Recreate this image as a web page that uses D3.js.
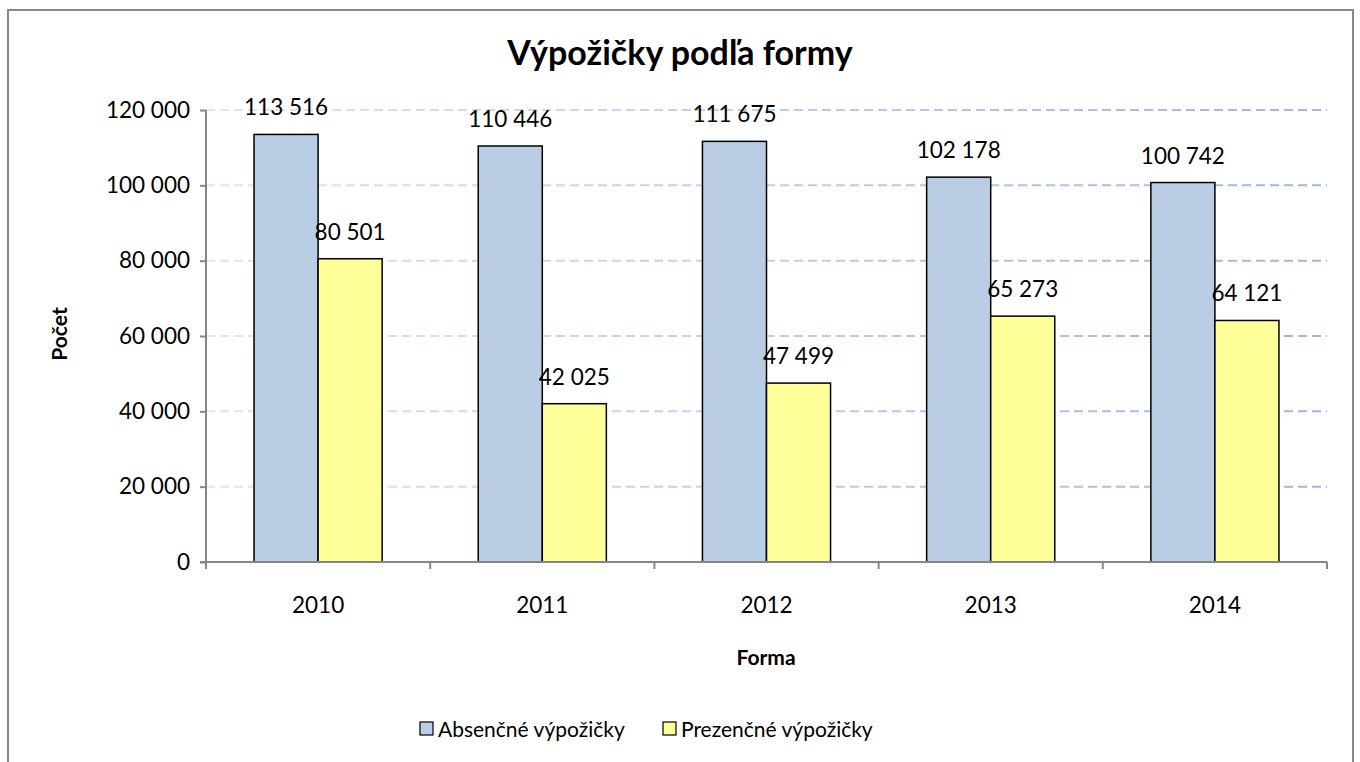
<!DOCTYPE html>
<html><head><meta charset="utf-8">
<script src="https://cdn.jsdelivr.net/npm/d3@7"></script>
<style>body{margin:0;background:#fff}text{font-family:Lato,"Open Sans",sans-serif}</style>
</head><body>
<svg id="c" width="1360" height="762"></svg>
<script>
const categories = ["2010","2011","2012","2013","2014"];
const seriesNames = ["Absenčné výpožičky","Prezenčné výpožičky"];
const absencne = [113516,110446,111675,102178,100742];
const prezencne = [80501,42025,47499,65273,64121];
const yTicks = [0,20000,40000,60000,80000,100000,120000];
const colors = ["#b9cde5","#ffff99"];

const svg = d3.select("#c");
const fmt = v => d3.format(",")(v).replace(/,/g," ");
svg.append("rect").attr("x",8).attr("y",10).attr("width",1345).attr("height",760)
  .attr("fill","#fff").attr("stroke","#888").attr("stroke-width",2);

const L=206,R=1327,T=110,B=562;
const x = d3.scaleBand().domain(categories).range([L,R]).paddingInner(0.4286).paddingOuter(0.2143);
const y = d3.scaleLinear().domain([0,120000]).range([B,T]);

const defs = svg.append("defs");
const g = defs.append("linearGradient").attr("id","gg").attr("gradientUnits","userSpaceOnUse")
  .attr("x1",L).attr("x2",R).attr("y1",0).attr("y2",0);
g.append("stop").attr("offset","0").attr("stop-color","#dfe6f3");
g.append("stop").attr("offset","1").attr("stop-color","#9db6e3");

svg.append("g").selectAll("line").data(yTicks.filter(d=>d>0)).join("line")
  .attr("x1",L).attr("x2",R).attr("y1",d=>y(d)).attr("y2",d=>y(d))
  .attr("stroke","url(#gg)").attr("stroke-width",2).attr("stroke-dasharray","9,5");

const data = categories.map((c,i)=>({c,vals:[absencne[i],prezencne[i]]}));
const xs = d3.scaleBand().domain([0,1]).range([0,x.bandwidth()]);
const grp = svg.append("g").selectAll("g").data(data).join("g").attr("transform",d=>`translate(${x(d.c)},0)`);
grp.selectAll("rect").data(d=>d.vals.map((v,k)=>({v,k}))).join("rect")
  .attr("x",d=>xs(d.k)).attr("width",xs.bandwidth()).attr("y",d=>y(d.v)).attr("height",d=>B-y(d.v))
  .attr("fill",d=>colors[d.k]).attr("stroke","#000").attr("stroke-width",1.5);
grp.selectAll("text").data(d=>d.vals.map((v,k)=>({v,k}))).join("text")
  .attr("x",d=>xs(d.k)+xs.bandwidth()/2).attr("y",d=>y(d.v)-19).attr("text-anchor","middle")
  .attr("font-size",22.5).attr("fill","#000").text(d=>fmt(d.v));

// axes
const yAx = svg.append("g").attr("transform",`translate(${L},0)`)
  .call(d3.axisLeft(y).tickValues(yTicks).tickSize(6).tickPadding(10).tickFormat(fmt));
yAx.selectAll("text").attr("font-size",22.5).attr("fill","#000").style("font-family","Lato,'Open Sans',sans-serif");
yAx.selectAll("line,path").attr("stroke","#868686").attr("stroke-width",2);
yAx.select("path").attr("d",`M0,${T}V${B}`);

const xAx = svg.append("g").attr("transform",`translate(0,${B})`);
xAx.append("line").attr("x1",L-6).attr("x2",R).attr("y1",0).attr("y2",0).attr("stroke","#868686").attr("stroke-width",2);
const bounds = categories.map(c=>x(c)-x.step()*x.paddingOuter()).concat([R]);
xAx.selectAll("line.t").data(bounds).join("line").attr("class","t")
  .attr("x1",d=>d).attr("x2",d=>d).attr("y1",0).attr("y2",7).attr("stroke","#868686").attr("stroke-width",2);
xAx.selectAll("text").data(categories).join("text")
  .attr("x",d=>x(d)+x.bandwidth()/2).attr("y",51).attr("text-anchor","middle").attr("font-size",22.5).text(d=>d);

svg.append("text").attr("x",680).attr("y",65).attr("text-anchor","middle").attr("font-size",34).attr("font-weight","bold").text("Výpožičky podľa formy");
svg.append("text").attr("transform","translate(67,334) rotate(-90)").attr("text-anchor","middle").attr("font-size",21).attr("font-weight","bold").text("Počet");
svg.append("text").attr("x",766).attr("y",665).attr("text-anchor","middle").attr("font-size",21).attr("font-weight","bold").text("Forma");

// legend
const leg = svg.append("g");
const legX = [420,663];
seriesNames.forEach((n,i)=>{
  leg.append("rect").attr("x",legX[i]).attr("y",722).attr("width",13).attr("height",13).attr("fill",colors[i]).attr("stroke","#000").attr("stroke-width",1.2);
  leg.append("text").attr("x",legX[i]+18).attr("y",737).attr("font-size",21).text(n);
});
</script>
</body></html>
